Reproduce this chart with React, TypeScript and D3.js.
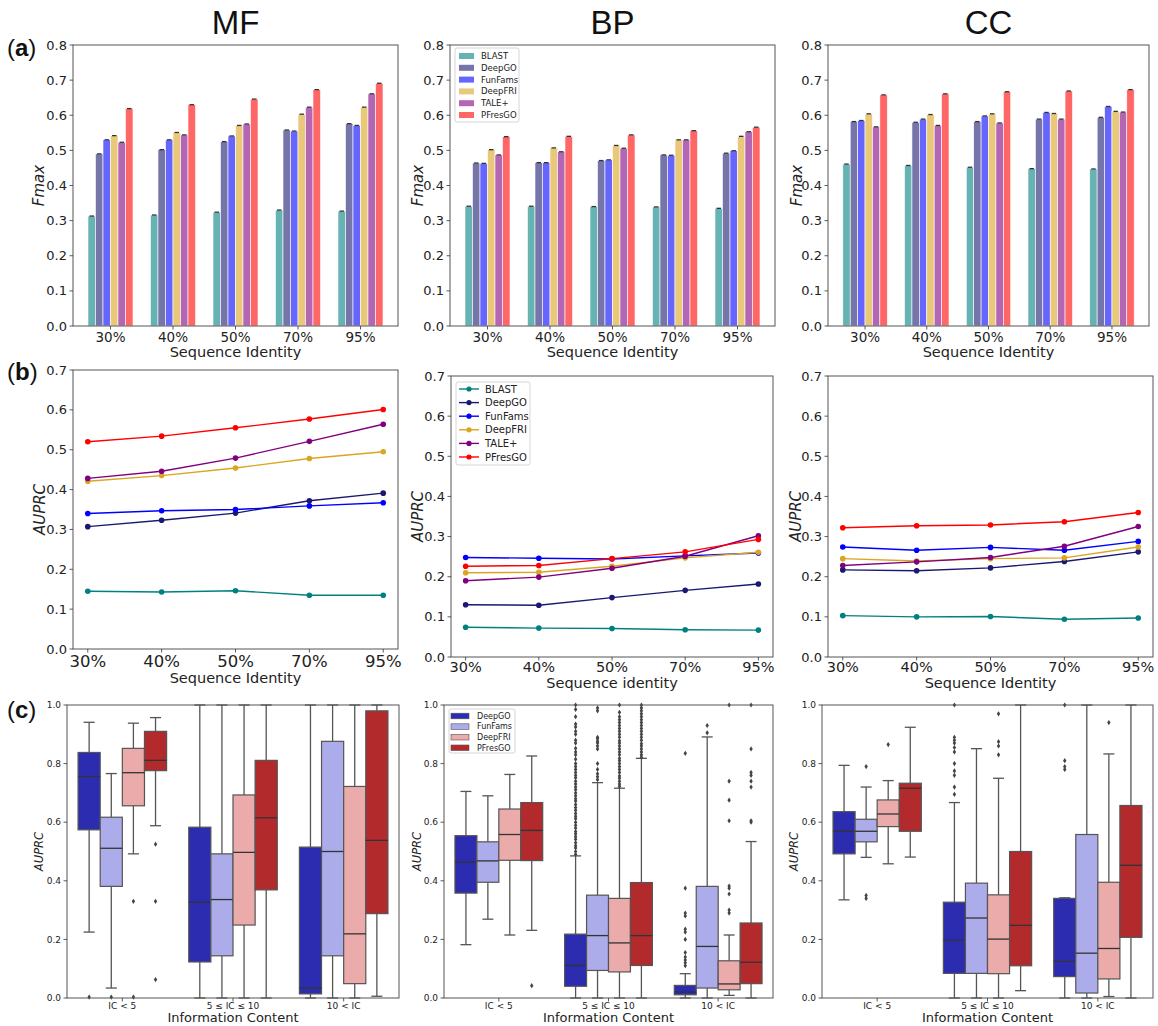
import React from 'react';
import * as d3 from 'd3';

const methods = ['BLAST', 'DeepGO', 'FunFams', 'DeepFRI', 'TALE+', 'PFresGO'];
const identities = ['30%', '40%', '50%', '70%', '95%'];
const barColors = ['#66b3b3', '#7575a9', '#6666ff', '#e9c979', '#b366b3', '#ff6666'];
const lineColors = ['#008080', '#191970', '#0000ff', '#daa520', '#800080', '#ff0000'];

// (a) Fmax — one row per method, one value per sequence identity
const fmaxMF = [
  [0.313, 0.316, 0.324, 0.330, 0.327],
  [0.490, 0.502, 0.525, 0.558, 0.576],
  [0.530, 0.530, 0.541, 0.555, 0.571],
  [0.542, 0.551, 0.571, 0.603, 0.623],
  [0.523, 0.544, 0.575, 0.623, 0.661],
  [0.619, 0.630, 0.646, 0.673, 0.691],
];
const fmaxBP = [
  [0.341, 0.341, 0.340, 0.339, 0.335],
  [0.464, 0.465, 0.471, 0.487, 0.492],
  [0.463, 0.465, 0.473, 0.486, 0.499],
  [0.502, 0.507, 0.514, 0.530, 0.540],
  [0.487, 0.496, 0.506, 0.530, 0.553],
  [0.539, 0.540, 0.544, 0.556, 0.566],
];
const fmaxCC = [
  [0.461, 0.457, 0.452, 0.448, 0.447],
  [0.582, 0.580, 0.582, 0.589, 0.594],
  [0.585, 0.589, 0.598, 0.608, 0.625],
  [0.604, 0.602, 0.604, 0.605, 0.611],
  [0.567, 0.571, 0.578, 0.589, 0.609],
  [0.658, 0.661, 0.667, 0.669, 0.673],
];

// (b) AUPRC
const auprcMF = [
  [0.145, 0.143, 0.146, 0.135, 0.135],
  [0.307, 0.323, 0.341, 0.372, 0.391],
  [0.340, 0.347, 0.350, 0.359, 0.367],
  [0.421, 0.435, 0.454, 0.478, 0.495],
  [0.428, 0.446, 0.479, 0.521, 0.564],
  [0.520, 0.534, 0.555, 0.577, 0.601],
];
const auprcBP = [
  [0.074, 0.072, 0.071, 0.068, 0.067],
  [0.130, 0.129, 0.148, 0.166, 0.182],
  [0.248, 0.246, 0.244, 0.252, 0.259],
  [0.210, 0.211, 0.226, 0.247, 0.261],
  [0.190, 0.199, 0.221, 0.251, 0.302],
  [0.226, 0.228, 0.245, 0.262, 0.293],
];
const auprcCC = [
  [0.103, 0.100, 0.101, 0.094, 0.097],
  [0.217, 0.215, 0.222, 0.238, 0.262],
  [0.274, 0.266, 0.273, 0.266, 0.288],
  [0.245, 0.239, 0.245, 0.247, 0.274],
  [0.228, 0.237, 0.248, 0.276, 0.325],
  [0.322, 0.327, 0.329, 0.337, 0.360],
];

// (c) box plots: [whiskerLow, q1, median, q3, whiskerHigh], per IC group then method
const boxMethods = ['DeepGO', 'FunFams', 'DeepFRI', 'PFresGO'];
const boxColors = ['#2c2cb0', '#acacea', '#ebabab', '#b32a2d'];
const icGroups = ['IC < 5', '5 \u2264 IC \u2264 10', '10 < IC'];

const boxMF = [
  [[0.225, 0.574, 0.756, 0.838, 0.941], [0.034, 0.381, 0.511, 0.617, 0.766], [0.492, 0.656, 0.769, 0.852, 0.938], [0.588, 0.776, 0.811, 0.910, 0.957]],
  [[0, 0.123, 0.327, 0.583, 1], [0, 0.144, 0.336, 0.492, 1], [0, 0.249, 0.497, 0.693, 1], [0, 0.369, 0.615, 0.811, 1]],
  [[0, 0.014, 0.034, 0.515, 1], [0, 0.144, 0.500, 0.876, 1], [0, 0.049, 0.219, 0.722, 1], [0.006, 0.288, 0.538, 0.980, 1]],
];
const outMF = [
  [[0.003], [0.003], [0.33, 0.003], [0.525, 0.33, 0.063]],
  [[], [], [], []],
  [[], [], [], []],
];

const boxBP = [
  [[0.182, 0.358, 0.464, 0.554, 0.705], [0.269, 0.395, 0.468, 0.533, 0.690], [0.215, 0.470, 0.558, 0.645, 0.763], [0.231, 0.469, 0.572, 0.667, 0.826]],
  [[0, 0.040, 0.111, 0.218, 0.485], [0, 0.094, 0.213, 0.351, 0.735], [0, 0.089, 0.188, 0.340, 0.716], [0, 0.111, 0.213, 0.394, 0.818]],
  [[0, 0.011, 0.020, 0.043, 0.083], [0, 0.034, 0.176, 0.381, 0.891], [0.009, 0.028, 0.048, 0.127, 0.215], [0, 0.049, 0.122, 0.256, 0.534]],
];
const outBP = [
  [[], [], [], [0.042]],
  [
    [0.49, 0.5, 0.512, 0.52, 0.53, 0.542, 0.55, 0.56, 0.568, 0.58, 0.59, 0.6, 0.612, 0.62, 0.63, 0.641, 0.65, 0.66, 0.672, 0.68, 0.69, 0.7, 0.711, 0.72, 0.73, 0.74, 0.752, 0.76, 0.77, 0.78, 0.79, 0.8, 0.815, 0.83, 0.84, 0.852, 0.87, 0.88, 0.9, 0.91, 0.925, 0.935, 0.96, 0.985, 1.0],
    [0.745, 0.755, 0.765, 0.78, 0.8, 0.85, 0.86, 0.87, 0.876, 0.885, 0.89, 0.98, 0.99],
    [0.722, 0.73, 0.74, 0.75, 0.758, 0.77, 0.78, 0.79, 0.8, 0.81, 0.818, 0.83, 0.84, 0.85, 0.86, 0.87, 0.878, 0.89, 0.9, 0.91, 0.92, 0.93, 0.94, 0.95, 0.96, 0.975, 1.0],
    [0.822, 0.83, 0.84, 0.85, 0.86, 0.868, 0.88, 0.89, 0.9, 0.91, 0.92, 0.93, 0.94, 0.95, 0.96, 0.97, 0.98, 0.99, 1.0],
  ],
  [
    [0.11, 0.12, 0.13, 0.14, 0.155, 0.2, 0.225, 0.235, 0.28, 0.29, 0.375, 0.835],
    [0.905, 0.93],
    [0.29, 0.3, 0.355, 0.375, 0.382, 0.605, 0.675, 0.74, 1.0],
    [0.6, 0.605, 0.72, 0.74, 0.76, 0.77, 0.85, 1.0],
  ],
];

const boxCC = [
  [[0.335, 0.492, 0.570, 0.636, 0.794], [0.480, 0.533, 0.569, 0.610, 0.720], [0.458, 0.585, 0.628, 0.676, 0.742], [0.481, 0.569, 0.716, 0.733, 0.924]],
  [[0, 0.084, 0.197, 0.327, 0.667], [0, 0.084, 0.273, 0.392, 0.851], [0, 0.083, 0.201, 0.352, 0.750], [0.025, 0.110, 0.248, 0.500, 1]],
  [[0, 0.073, 0.125, 0.340, 0.342], [0, 0.017, 0.153, 0.558, 1], [0.005, 0.065, 0.169, 0.395, 0.833], [0, 0.207, 0.453, 0.657, 1]],
];
const outCC = [
  [[], [0.79, 0.35, 0.34], [0.865], []],
  [[0.695, 0.72, 0.76, 0.775, 0.8, 0.84, 0.855, 0.87, 0.88, 0.89, 1.0], [], [0.83, 0.86, 0.875, 0.97], []],
  [[0.78, 0.79, 0.81, 1.0], [], [0.94], []],
];

type Frame = { x: number; y: number; w: number; h: number };

const FONT = 'DejaVu Sans, sans-serif';
const SANS = 'Liberation Sans, Arial, sans-serif';
const AXIS = '#555';

function FrameBox({ f }: { f: Frame }) {
  return <rect x={f.x} y={f.y} width={f.w} height={f.h} fill="none" stroke={AXIS} strokeWidth={1} />;
}

function YAxis({ f, y, ticks, size, label, labelX, labelSize }: any) {
  return (
    <g>
      {ticks.map((t: number) => (
        <g key={t} transform={`translate(${f.x},${y(t)})`}>
          <line x1={-3.5} x2={0} stroke="#333" strokeWidth={0.8} />
          <text x={-6} dy="0.35em" textAnchor="end" fontSize={size} fill="#222">{d3.format('.1f')(t)}</text>
        </g>
      ))}
      <text transform={`translate(${labelX},${f.y + f.h / 2}) rotate(-90)`} textAnchor="middle"
        fontSize={labelSize} fontStyle="italic" fill="#222">{label}</text>
    </g>
  );
}

function XTicks({ f, xs, labels, size, dy }: any) {
  return (
    <g>
      {labels.map((l: string, i: number) => (
        <g key={l} transform={`translate(${xs[i]},${f.y + f.h})`}>
          <line y1={0} y2={3.5} stroke="#333" strokeWidth={0.8} />
          <text y={dy} textAnchor="middle" fontSize={size} fill="#222">{l}</text>
        </g>
      ))}
    </g>
  );
}

function BarPanel({ f, data, legend, labelX }: { f: Frame; data: number[][]; legend?: boolean; labelX: number }) {
  const x = d3.scaleLinear().domain([-0.6, 4.6]).range([f.x, f.x + f.w]);
  const y = d3.scaleLinear().domain([0, 0.8]).range([f.y + f.h, f.y]);
  const bw = 0.12;
  return (
    <g>
      {data.map((row, m) => row.map((v, i) => {
        const c = i + (m - 2.5) * bw;
        const x0 = x(c - bw / 2), x1 = x(c + bw / 2);
        return (
          <g key={`${m}-${i}`}>
            <rect x={x0} y={y(v)} width={x1 - x0} height={y(0) - y(v)} fill={barColors[m]} stroke="#fff" strokeWidth={0.6} />
            <line x1={x0 + 1.5} x2={x1 - 1.5} y1={y(v)} y2={y(v)} stroke="#333" strokeWidth={1.3} />
          </g>
        );
      }))}
      <FrameBox f={f} />
      <YAxis f={f} y={y} ticks={y.ticks(8)} size={13} label="Fmax" labelX={labelX} labelSize={15} />
      <XTicks f={f} xs={identities.map((_, i) => x(i))} labels={identities} size={13.5} dy={16} />
      <text x={f.x + f.w / 2} y={f.y + f.h + 31} textAnchor="middle" fontSize={14.5} fill="#222">Sequence Identity</text>
      {legend && (
        <g transform={`translate(${f.x + 5},${f.y + 3})`}>
          <rect width={64} height={74} rx={2} fill="#fff" stroke="#ccc" strokeWidth={0.8} />
          {methods.map((m, i) => (
            <g key={m} transform={`translate(4,${8 + i * 11.8})`}>
              <rect x={0} y={-3} width={15} height={6} fill={barColors[i]} />
              <text x={22} dy="0.35em" fontSize={8.5} fill="#222">{m}</text>
            </g>
          ))}
        </g>
      )}
    </g>
  );
}

function LinePanel({ f, data, legend, labelX, tickSize, tickDy, xLabel, xLabelDy }: any) {
  const x = d3.scaleLinear().domain([-0.2, 4.2]).range([f.x, f.x + f.w]);
  const y = d3.scaleLinear().domain([0, 0.7]).range([f.y + f.h, f.y]);
  const line = d3.line<number>().x((_, i) => x(i)).y(v => y(v));
  return (
    <g>
      {data.map((row: number[], m: number) => (
        <g key={m}>
          <path d={line(row) || ''} fill="none" stroke={lineColors[m]} strokeWidth={1.4} />
          {row.map((v, i) => <circle key={i} cx={x(i)} cy={y(v)} r={2.8} fill={lineColors[m]} />)}
        </g>
      ))}
      <FrameBox f={f} />
      <YAxis f={f} y={y} ticks={y.ticks(7)} size={13} label="AUPRC" labelX={labelX} labelSize={15} />
      <XTicks f={f} xs={identities.map((_, i) => x(i))} labels={identities} size={tickSize} dy={tickDy} />
      <text x={f.x + f.w / 2} y={f.y + f.h + xLabelDy} textAnchor="middle" fontSize={14.5} fill="#222">{xLabel}</text>
      {legend && (
        <g transform={`translate(${f.x + 5},${f.y + 6})`}>
          <rect width={74} height={83} rx={2} fill="#fff" stroke="#ccc" strokeWidth={0.8} />
          {methods.map((m, i) => (
            <g key={m} transform={`translate(3,${7 + i * 13.6})`}>
              <line x1={0} x2={20} stroke={lineColors[i]} strokeWidth={1.4} />
              <circle cx={10} r={2.6} fill={lineColors[i]} />
              <text x={26} dy="0.35em" fontSize={10} fill="#222">{m}</text>
            </g>
          ))}
        </g>
      )}
    </g>
  );
}

const diamond = 'M0,-2.6L1.7,0L0,2.6L-1.7,0Z';

function BoxPanel({ f, stats, outliers, legend, labelX }: any) {
  const xb = d3.scaleBand<string>().domain(icGroups).range([f.x, f.x + f.w]);
  const y = d3.scaleLinear().domain([0, 1]).range([f.y + f.h, f.y]);
  const bw = xb.bandwidth() * 0.2;
  const LC = '#555';
  return (
    <g>
      {stats.map((grp: number[][], g: number) => grp.map((s, m) => {
        const cx = (xb(icGroups[g]) as number) + xb.bandwidth() / 2 + (m - 1.5) * bw;
        const [lo, q1, med, q3, hi] = s;
        const half = bw / 2;
        return (
          <g key={`${g}-${m}`}>
            <line x1={cx} x2={cx} y1={y(q3)} y2={y(hi)} stroke={LC} strokeWidth={1.3} />
            <line x1={cx} x2={cx} y1={y(q1)} y2={y(lo)} stroke={LC} strokeWidth={1.3} />
            <line x1={cx - half / 2} x2={cx + half / 2} y1={y(hi)} y2={y(hi)} stroke={LC} strokeWidth={1.3} />
            <line x1={cx - half / 2} x2={cx + half / 2} y1={y(lo)} y2={y(lo)} stroke={LC} strokeWidth={1.3} />
            <rect x={cx - half} y={y(q3)} width={bw} height={y(q1) - y(q3)} fill={boxColors[m]} stroke={LC} strokeWidth={1.2} />
            <line x1={cx - half} x2={cx + half} y1={y(med)} y2={y(med)} stroke="#333" strokeWidth={1.3} />
            {outliers[g][m].map((v: number, k: number) => (
              <path key={k} d={diamond} transform={`translate(${cx},${y(v)})`} fill="#444" />
            ))}
          </g>
        );
      }))}
      <FrameBox f={f} />
      <YAxis f={f} y={y} ticks={y.ticks(5)} size={9} label="AUPRC" labelX={labelX} labelSize={11.5} />
      <XTicks f={f} xs={icGroups.map(g => (xb(g) as number) + xb.bandwidth() / 2)} labels={icGroups} size={9} dy={11} />
      <text x={f.x + f.w / 2} y={f.y + f.h + 24} textAnchor="middle" fontSize={13} fill="#222">Information Content</text>
      {legend && (
        <g transform={`translate(${f.x + 5},${f.y + 4})`}>
          <rect width={66} height={44} rx={2} fill="#fff" stroke="#ccc" strokeWidth={0.8} />
          {boxMethods.map((m, i) => (
            <g key={m} transform={`translate(2,${7 + i * 10.6})`}>
              <rect x={0} y={-2.8} width={18} height={5.6} fill={boxColors[i]} stroke={LC} strokeWidth={0.6} />
              <text x={26} dy="0.35em" fontSize={8} fill="#222">{m}</text>
            </g>
          ))}
        </g>
      )}
    </g>
  );
}

const aFrames: Frame[] = [
  { x: 73, y: 45, w: 325, h: 281 },
  { x: 450, y: 45, w: 325, h: 281 },
  { x: 828, y: 45, w: 321, h: 281 },
];
const bFrames: Frame[] = [
  { x: 73, y: 370, w: 325, h: 279 },
  { x: 451, y: 376, w: 322, h: 281 },
  { x: 828, y: 376, w: 325, h: 281 },
];
const cFrames: Frame[] = [
  { x: 67, y: 705, w: 332, h: 293 },
  { x: 444, y: 705, w: 329, h: 293 },
  { x: 822, y: 705, w: 331, h: 293 },
];

export default function App() {
  return (
    <svg width={1158} height={1026} style={{ position: 'absolute', left: 0, top: 0, background: '#fff' }} fontFamily={FONT}>
      <rect width={1158} height={1026} fill="#fff" />
      {['MF', 'BP', 'CC'].map((t, i) => (
        <text key={t} x={aFrames[i].x + aFrames[i].w / 2} y={34} textAnchor="middle" fontFamily={SANS} fontSize={33} fill="#111">{t}</text>
      ))}
      {[['a', 56], ['b', 380], ['c', 718]].map(([l, yy]) => (
        <text key={l as string} x={7} y={yy as number} fontFamily={SANS} fontSize={24} fill="#111">
          (<tspan fontWeight="bold">{l}</tspan>)
        </text>
      ))}

      <BarPanel f={aFrames[0]} data={fmaxMF} labelX={44} />
      <BarPanel f={aFrames[1]} data={fmaxBP} labelX={423} legend />
      <BarPanel f={aFrames[2]} data={fmaxCC} labelX={802} />

      <LinePanel f={bFrames[0]} data={auprcMF} labelX={45} tickSize={16.5} tickDy={18} xLabel="Sequence Identity" xLabelDy={34} />
      <LinePanel f={bFrames[1]} data={auprcBP} labelX={423} tickSize={14.5} tickDy={15} xLabel="Sequence identity" xLabelDy={31} legend />
      <LinePanel f={bFrames[2]} data={auprcCC} labelX={801} tickSize={14.5} tickDy={15} xLabel="Sequence Identity" xLabelDy={31} />

      <BoxPanel f={cFrames[0]} stats={boxMF} outliers={outMF} labelX={43} />
      <BoxPanel f={cFrames[1]} stats={boxBP} outliers={outBP} labelX={421} legend />
      <BoxPanel f={cFrames[2]} stats={boxCC} outliers={outCC} labelX={798} />
    </svg>
  );
}
